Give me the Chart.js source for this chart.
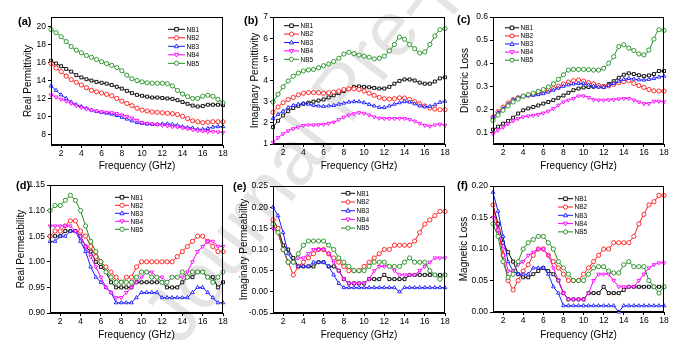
<!DOCTYPE html>
<html>
<head>
<meta charset="utf-8">
<script src="https://cdn.jsdelivr.net/npm/chart.js@4.4.1/dist/chart.umd.min.js"></script>
<style>
body { margin: 0; background: #fff; width: 693px; height: 352px; position: relative; overflow: hidden; }
canvas { position: absolute; }
#wm { position: absolute; left: 181px; top: 281px; font: 78px "Liberation Sans", Arial, sans-serif; color: #000; opacity: 0.1;
      white-space: nowrap; transform-origin: 0 66px; transform: rotate(-52.7deg); line-height: 1; }
</style>
</head>
<body>
<div id="wm">Journal Pre-proof</div>
<canvas id="pa" width="231" height="176" style="left:0px;top:0px"></canvas>
<canvas id="pb" width="231" height="176" style="left:231px;top:0px"></canvas>
<canvas id="pc" width="241" height="176" style="left:452px;top:0px"></canvas>
<canvas id="pd" width="231" height="176" style="left:0px;top:176px"></canvas>
<canvas id="pe" width="231" height="176" style="left:231px;top:176px"></canvas>
<canvas id="pf" width="241" height="176" style="left:452px;top:176px"></canvas>
<script>
// frequency points (GHz)
let freq = [1, 1.5, 2, 2.5, 3, 3.5, 4, 4.5, 5, 5.5, 6, 6.5, 7, 7.5, 8, 8.5, 9, 9.5, 10, 10.5, 11, 11.5, 12, 12.5, 13, 13.5, 14, 14.5, 15, 15.5, 16, 16.5, 17, 17.5, 18];
let seriesNames = ["NB1", "NB2", "NB3", "NB4", "NB5"];
let xTicks = [2, 4, 6, 8, 10, 12, 14, 16, 18];

// (a) real permittivity
let epsR_NB1 = [16.2,15.9,15.6,15.3,15.0,14.6,14.35,14.15,14.0,13.85,13.75,13.65,13.5,13.3,13.1,12.85,12.6,12.4,12.3,12.2,12.1,12.1,12.05,12.0,11.95,11.8,11.6,11.4,11.2,11.1,11.15,11.3,11.3,11.3,11.25];
let epsR_NB2 = [15.9,15.4,15.0,14.5,14.1,13.8,13.5,13.2,12.9,12.75,12.6,12.45,12.3,12.0,11.7,11.45,11.2,10.9,10.7,10.6,10.5,10.45,10.4,10.35,10.3,10.2,10.0,9.75,9.5,9.4,9.3,9.35,9.4,9.4,9.4];
let epsR_NB3 = [13.4,12.9,12.4,12.0,11.6,11.3,11.1,10.9,10.7,10.55,10.45,10.35,10.25,10.1,9.9,9.7,9.5,9.3,9.2,9.15,9.1,9.1,9.15,9.15,9.1,9.0,8.85,8.75,8.7,8.55,8.55,8.65,8.8,8.85,8.85];
let epsR_NB4 = [12.4,12.15,11.9,11.7,11.45,11.2,11.0,10.85,10.7,10.6,10.5,10.45,10.4,10.3,10.15,10.0,9.8,9.55,9.3,9.2,9.15,9.1,9.0,8.95,8.85,8.8,8.7,8.6,8.5,8.4,8.35,8.3,8.3,8.25,8.2];
let epsR_NB5 = [19.7,19.35,18.9,18.35,17.8,17.4,17.1,16.8,16.6,16.35,16.1,15.9,15.7,15.45,15.1,14.6,14.2,14.0,13.85,13.75,13.7,13.7,13.7,13.65,13.4,12.9,12.5,12.2,12.0,12.0,12.25,12.35,12.25,11.9,11.5];
let ticksA = [8, 10, 12, 14, 16, 18, 20];

// (b) imaginary permittivity
let epsI_NB1 = [1.8,2.1,2.35,2.55,2.7,2.8,2.9,2.95,3.0,3.05,3.1,3.2,3.3,3.4,3.5,3.6,3.7,3.72,3.7,3.68,3.65,3.62,3.62,3.7,3.85,3.98,4.05,4.05,4.0,3.9,3.85,3.85,3.95,4.1,4.15];
let epsI_NB2 = [2.5,2.75,2.95,3.1,3.2,3.32,3.4,3.43,3.43,3.42,3.4,3.42,3.45,3.5,3.57,3.6,3.6,3.58,3.5,3.4,3.3,3.2,3.14,3.12,3.14,3.18,3.17,3.1,3.0,2.9,2.8,2.7,2.65,2.62,2.62];
let epsI_NB3 = [2.2,2.4,2.55,2.72,2.82,2.88,2.9,2.88,2.83,2.8,2.78,2.8,2.82,2.88,2.93,2.98,3.0,3.0,2.95,2.87,2.8,2.73,2.72,2.8,2.88,2.95,3.0,2.98,2.9,2.8,2.76,2.78,2.85,2.97,3.02];
let epsI_NB4 = [1.08,1.3,1.48,1.62,1.72,1.8,1.87,1.9,1.9,1.91,1.93,1.97,2.03,2.15,2.27,2.37,2.43,2.48,2.45,2.37,2.28,2.22,2.2,2.2,2.2,2.21,2.2,2.15,2.08,1.97,1.88,1.84,1.9,1.93,1.88];
let epsI_NB5 = [2.98,3.35,3.7,3.98,4.2,4.35,4.45,4.5,4.52,4.6,4.7,4.78,4.9,5.05,5.25,5.33,5.27,5.2,5.15,5.1,5.02,5.05,5.15,5.4,5.7,6.05,5.95,5.7,5.5,5.3,5.35,5.7,6.1,6.4,6.45];
let ticksB = [1, 2, 3, 4, 5, 6, 7];

// (c) dielectric loss
let tanE_NB1 = [0.112,0.125,0.138,0.15,0.164,0.182,0.196,0.204,0.21,0.217,0.225,0.232,0.24,0.25,0.26,0.272,0.283,0.29,0.295,0.297,0.298,0.299,0.30,0.31,0.322,0.337,0.35,0.356,0.353,0.348,0.344,0.347,0.353,0.366,0.366];
let tanE_NB2 = [0.167,0.19,0.21,0.228,0.242,0.25,0.257,0.262,0.266,0.271,0.276,0.283,0.29,0.3,0.31,0.318,0.324,0.327,0.322,0.316,0.31,0.303,0.298,0.302,0.308,0.315,0.32,0.324,0.312,0.303,0.295,0.286,0.28,0.279,0.279];
let tanE_NB3 = [0.164,0.185,0.203,0.222,0.24,0.25,0.257,0.259,0.261,0.264,0.268,0.275,0.283,0.292,0.30,0.306,0.31,0.312,0.312,0.306,0.30,0.297,0.295,0.303,0.312,0.322,0.33,0.334,0.331,0.328,0.327,0.33,0.334,0.34,0.344];
let tanE_NB4 = [0.094,0.11,0.123,0.137,0.15,0.16,0.167,0.171,0.174,0.178,0.184,0.192,0.203,0.218,0.232,0.24,0.247,0.258,0.258,0.251,0.242,0.24,0.24,0.241,0.242,0.245,0.247,0.247,0.24,0.232,0.225,0.225,0.235,0.235,0.232];
let tanE_NB5 = [0.152,0.175,0.196,0.215,0.232,0.245,0.257,0.264,0.27,0.278,0.286,0.297,0.31,0.33,0.35,0.37,0.373,0.373,0.373,0.372,0.37,0.37,0.378,0.4,0.428,0.472,0.48,0.465,0.455,0.44,0.436,0.457,0.504,0.545,0.542];
let ticksC = [0.1, 0.2, 0.3, 0.4, 0.5, 0.6];

// (d) real permeability
let muR_NB1 = [1.05,1.05,1.05,1.06,1.06,1.06,1.05,1.03,1.02,1.00,0.99,0.98,0.96,0.95,0.95,0.95,0.95,0.96,0.96,0.96,0.96,0.96,0.96,0.95,0.95,0.95,0.96,0.97,0.97,0.98,0.98,0.97,0.97,0.95,0.96];
let muR_NB2 = [1.05,1.06,1.06,1.07,1.08,1.08,1.06,1.05,1.03,1.01,1.00,0.99,0.98,0.97,0.96,0.97,0.97,0.99,1.00,1.00,1.00,1.00,1.00,1.00,1.00,1.01,1.02,1.03,1.04,1.05,1.05,1.04,1.03,1.02,1.02];
let muR_NB3 = [1.04,1.04,1.05,1.05,1.06,1.06,1.04,1.02,0.99,0.97,0.96,0.95,0.94,0.92,0.92,0.92,0.92,0.93,0.94,0.94,0.94,0.94,0.93,0.93,0.93,0.93,0.93,0.93,0.94,0.95,0.95,0.94,0.93,0.92,0.92];
let muR_NB4 = [1.07,1.07,1.07,1.07,1.07,1.06,1.05,1.03,1.01,0.99,0.97,0.95,0.94,0.93,0.93,0.94,0.95,0.96,0.97,0.98,0.98,0.97,0.97,0.96,0.97,0.97,0.97,0.98,1.00,1.02,1.03,1.04,1.04,1.03,1.03];
let muR_NB5 = [1.10,1.11,1.11,1.12,1.13,1.12,1.10,1.07,1.04,1.02,1.00,0.98,0.97,0.96,0.96,0.96,0.96,0.97,0.98,0.98,0.97,0.97,0.96,0.96,0.97,0.97,0.98,0.97,0.98,0.98,0.98,0.97,0.96,0.97,0.98];
let ticksD = [0.90, 0.95, 1.00, 1.05, 1.10, 1.15];

// (e) imaginary permeability
let muI_NB1 = [0.17,0.15,0.11,0.10,0.08,0.06,0.06,0.06,0.06,0.07,0.07,0.06,0.06,0.05,0.03,0.02,0.02,0.02,0.02,0.03,0.03,0.03,0.04,0.03,0.03,0.03,0.03,0.04,0.04,0.04,0.04,0.04,0.04,0.04,0.04];
let muI_NB2 = [0.17,0.15,0.10,0.07,0.04,0.06,0.07,0.08,0.09,0.10,0.10,0.09,0.08,0.07,0.06,0.05,0.05,0.05,0.06,0.07,0.08,0.09,0.10,0.10,0.11,0.11,0.11,0.11,0.12,0.14,0.16,0.17,0.18,0.19,0.19];
let muI_NB3 = [0.20,0.18,0.14,0.09,0.07,0.06,0.06,0.06,0.07,0.07,0.07,0.06,0.04,0.02,0.01,0.01,0.01,0.01,0.01,0.01,0.01,0.01,0.01,0.01,0.01,0.00,0.01,0.01,0.01,0.01,0.01,0.01,0.01,0.01,0.01];
let muI_NB4 = [0.15,0.14,0.10,0.07,0.07,0.08,0.08,0.09,0.10,0.10,0.10,0.09,0.07,0.05,0.03,0.02,0.02,0.02,0.02,0.03,0.05,0.06,0.06,0.06,0.05,0.04,0.04,0.04,0.04,0.05,0.06,0.07,0.08,0.08,0.08];
let muI_NB5 = [0.16,0.14,0.10,0.07,0.07,0.09,0.11,0.12,0.12,0.12,0.12,0.11,0.10,0.08,0.07,0.06,0.05,0.05,0.05,0.06,0.07,0.07,0.07,0.06,0.06,0.06,0.07,0.08,0.07,0.07,0.07,0.05,0.04,0.03,0.04];
let ticksE = [-0.05, 0, 0.05, 0.10, 0.15, 0.20, 0.25];

// (f) magnetic loss
let tanM_NB1 = [0.17,0.14,0.11,0.095,0.08,0.06,0.055,0.055,0.06,0.065,0.07,0.065,0.06,0.05,0.03,0.02,0.02,0.02,0.02,0.03,0.03,0.03,0.04,0.03,0.03,0.03,0.035,0.04,0.04,0.04,0.04,0.04,0.04,0.04,0.04];
let tanM_NB2 = [0.17,0.13,0.09,0.05,0.035,0.05,0.065,0.075,0.09,0.10,0.10,0.09,0.08,0.07,0.06,0.05,0.05,0.05,0.06,0.07,0.08,0.09,0.10,0.10,0.11,0.11,0.11,0.11,0.12,0.14,0.155,0.17,0.175,0.185,0.185];
let tanM_NB3 = [0.19,0.16,0.12,0.08,0.065,0.06,0.06,0.06,0.07,0.07,0.07,0.06,0.04,0.03,0.01,0.01,0.01,0.01,0.01,0.01,0.01,0.01,0.01,0.01,0.01,0.00,0.01,0.01,0.01,0.01,0.01,0.01,0.01,0.01,0.01];
let tanM_NB4 = [0.15,0.13,0.10,0.065,0.065,0.075,0.08,0.09,0.095,0.10,0.10,0.09,0.07,0.05,0.03,0.02,0.02,0.02,0.02,0.03,0.05,0.06,0.06,0.06,0.05,0.04,0.04,0.04,0.04,0.05,0.06,0.07,0.075,0.078,0.078];
let tanM_NB5 = [0.14,0.12,0.08,0.055,0.06,0.08,0.10,0.11,0.115,0.12,0.12,0.11,0.10,0.08,0.07,0.06,0.05,0.05,0.05,0.06,0.07,0.072,0.072,0.065,0.062,0.062,0.075,0.08,0.072,0.072,0.072,0.05,0.04,0.03,0.04];
let ticksF = [0, 0.05, 0.10, 0.15, 0.20];

let FONT = '"Liberation Sans", Arial, sans-serif';
let colors = ["#000000", "#ff1a1a", "#1a1aff", "#ff00ff", "#1f8f1f"];
let styles = ["rect", "circle", "triangle", "triangle", "circle"];
let rotations = [0, 0, 0, 180, 0];

// layout of each panel (canvas coords)
let panels = [
    { id: "pa", tag: "(a)", tagX: 18, tagY: 22, yTitle: "Real Permittivity", data: [epsR_NB1, epsR_NB2, epsR_NB3, epsR_NB4, epsR_NB5],
      yMin: 6.8, yMax: 21.1, yTicks: ticksA, dec: 0, yw: 51, xh: 31, top: 17, right: 8, yPad: 22, xPad: 4, smooth: true,
      lx0: 168, lx1: 185, ly: 29.3, ldy: 8.5 },
    { id: "pb", tag: "(b)", tagX: 13, tagY: 21, yTitle: "Imaginary Permittivity", data: [epsI_NB1, epsI_NB2, epsI_NB3, epsI_NB4, epsI_NB5],
      yMin: 1, yMax: 7, yTicks: ticksB, dec: 0, yw: 42, xh: 32, top: 17, right: 17, yPad: 18, xPad: 4, smooth: true,
      lx0: 53, lx1: 68, ly: 25.7, ldy: 8.4 },
    { id: "pc", tag: "(c)", tagX: 5, tagY: 20, yTitle: "Dielectric Loss", data: [tanE_NB1, tanE_NB2, tanE_NB3, tanE_NB4, tanE_NB5],
      yMin: 0.05, yMax: 0.6, yTicks: ticksC, dec: 1, yw: 41, xh: 32, top: 17, right: 29, yPad: 7, xPad: 4, smooth: true,
      lx0: 53, lx1: 67, ly: 27.8, ldy: 8.1 },
    { id: "pd", tag: "(d)", tagX: 16, tagY: 10, yTitle: "Real Permeability", data: [muR_NB1, muR_NB2, muR_NB3, muR_NB4, muR_NB5],
      yMin: 0.9, yMax: 1.15, yTicks: ticksD, dec: 2, yw: 50, xh: 39, top: 9, right: 8, yPad: 15, xPad: 11, smooth: false,
      lx0: 115, lx1: 129, ly: 21.3, ldy: 8 },
    { id: "pe", tag: "(e)", tagX: 2, tagY: 11, yTitle: "Imaginary Permeability", data: [muI_NB1, muI_NB2, muI_NB3, muI_NB4, muI_NB5],
      yMin: -0.05, yMax: 0.25, yTicks: ticksE, dec: 2, yw: 42, xh: 39, top: 10, right: 17, yPad: 7, xPad: 11, smooth: false,
      lx0: 110, lx1: 124, ly: 17.3, ldy: 8.7 },
    { id: "pf", tag: "(f)", tagX: 5, tagY: 10, yTitle: "Magnetic Loss", data: [tanM_NB1, tanM_NB2, tanM_NB3, tanM_NB4, tanM_NB5],
      yMin: 0, yMax: 0.2, yTicks: ticksF, dec: 2, yw: 41, xh: 40, top: 10, right: 29, yPad: 6, xPad: 11, smooth: false,
      lx0: 106, lx1: 121, ly: 22.7, ldy: 8.3 }
];

function drawMarker(ctx, style, rot, x, y, r, color) {
    ctx.save();
    ctx.translate(x, y);
    ctx.rotate(rot * Math.PI / 180);
    ctx.beginPath();
    if (style === "rect") {
        ctx.rect(-r * 0.85, -r * 0.85, r * 1.7, r * 1.7);
    } else if (style === "triangle") {
        ctx.moveTo(0, -r * 1.1);
        ctx.lineTo(r, r * 0.7);
        ctx.lineTo(-r, r * 0.7);
        ctx.closePath();
    } else {
        ctx.arc(0, 0, r, 0, Math.PI * 2);
    }
    ctx.fillStyle = "#fff";
    ctx.fill();
    ctx.strokeStyle = color;
    ctx.lineWidth = 0.9;
    ctx.stroke();
    ctx.restore();
}

// frame, panel tag and small legend
let decor = {
    id: "decor",
    afterDraw(chart, args, o) {
        let ctx = chart.ctx;
        let a = chart.chartArea;
        ctx.save();
        ctx.strokeStyle = "#000";
        ctx.lineWidth = 1;
        ctx.strokeRect(Math.round(a.left) + 0.5, Math.round(a.top) + 0.5, Math.round(a.right - a.left) - 1, Math.round(a.bottom - a.top) - 1);

        ctx.fillStyle = "#000";
        ctx.textBaseline = "middle";
        ctx.textAlign = "left";
        ctx.font = "bold 11px " + FONT;
        ctx.fillText(o.tag, o.tagX, o.tagY);

        ctx.font = "6.5px " + FONT;
        chart.data.datasets.forEach((ds, i) => {
            let y = o.ly + i * o.ldy;
            ctx.strokeStyle = ds.borderColor;
            ctx.lineWidth = 1;
            ctx.beginPath();
            ctx.moveTo(o.lx0, y);
            ctx.lineTo(o.lx1, y);
            ctx.stroke();
            drawMarker(ctx, styles[i], rotations[i], (o.lx0 + o.lx1) / 2, y, 2.1, ds.borderColor);
            ctx.fillStyle = "#000";
            ctx.fillText(ds.label, o.lx1 + 1.5, y + 0.5);
        });
        ctx.restore();
    }
};

panels.forEach(p => {
    let dataSets = [];
    for (let i = 0; i < 5; i++) {
        dataSets.push({
            label: seriesNames[i],
            data: freq.map((f, k) => ({ x: f, y: p.data[i][k] })),
            borderColor: colors[i],
            backgroundColor: "#fff",
            borderWidth: 1,
            pointStyle: styles[i],
            pointRotation: rotations[i],
            pointRadius: 2.1,
            pointBorderWidth: 0.9,
            pointBackgroundColor: "#fff",
            cubicInterpolationMode: p.smooth ? "monotone" : "default",
            tension: 0,
            order: 5 - i,
            clip: false
        });
    }

    new Chart(document.getElementById(p.id).getContext("2d"), {
        type: "line",
        data: { datasets: dataSets },
        plugins: [decor],
        options: {
            responsive: false,
            animation: false,
            events: [],
            layout: { padding: { left: 0, top: p.top, right: p.right, bottom: 0 } },
            plugins: {
                legend: { display: false },
                tooltip: { enabled: false },
                decor: { tag: p.tag, tagX: p.tagX, tagY: p.tagY, lx0: p.lx0, lx1: p.lx1, ly: p.ly, ldy: p.ldy }
            },
            scales: {
                x: {
                    type: "linear",
                    min: 1,
                    max: 18,
                    afterBuildTicks: s => { s.ticks = xTicks.map(v => ({ value: v })); },
                    afterFit: s => { s.height = p.xh; s.paddingLeft = 0; s.paddingRight = 0; },
                    ticks: { color: "#000", font: { family: FONT, size: 8.5 }, padding: 1, maxRotation: 0, autoSkip: false,
                             callback: v => String(v) },
                    grid: { display: true, drawOnChartArea: false, tickLength: 3, color: "#000" },
                    border: { color: "#000", width: 1 },
                    title: { display: true, text: "Frequency (GHz)", color: "#000", font: { family: FONT, size: 10 },
                             padding: { top: 0, bottom: p.xPad } }
                },
                y: {
                    type: "linear",
                    min: p.yMin,
                    max: p.yMax,
                    afterBuildTicks: s => { s.ticks = p.yTicks.map(v => ({ value: v })); },
                    afterFit: s => { s.width = p.yw; s.paddingTop = 0; s.paddingBottom = 0; },
                    ticks: { color: "#000", font: { family: FONT, size: 8.5 }, padding: 2, autoSkip: false,
                             callback: v => Number(v).toFixed(p.dec) },
                    grid: { display: true, drawOnChartArea: false, tickLength: 3, color: "#000" },
                    border: { color: "#000", width: 1 },
                    title: { display: true, text: p.yTitle, color: "#000", font: { family: FONT, size: 10 },
                             padding: { top: p.yPad, bottom: 0 } }
                }
            }
        }
    });
});
</script>
</body>
</html>
